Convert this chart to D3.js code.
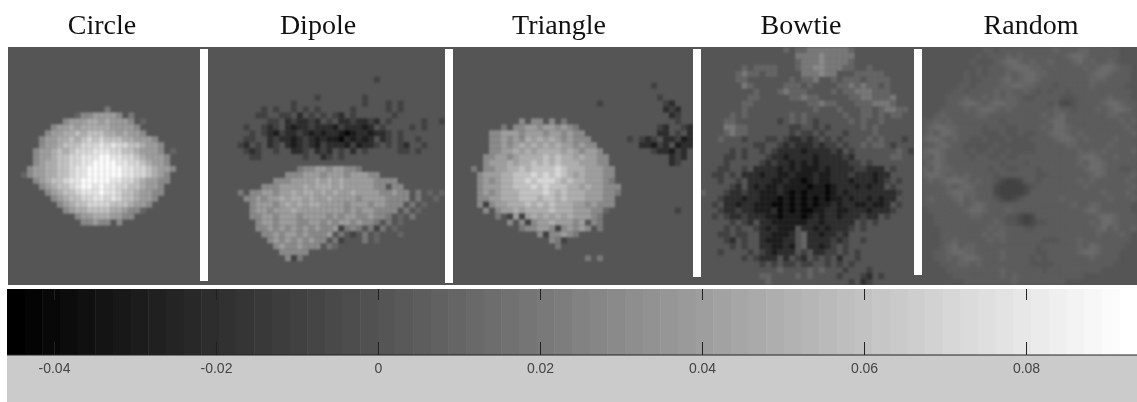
<!DOCTYPE html>
<html>
<head>
<meta charset="utf-8">
<script src="https://cdnjs.cloudflare.com/ajax/libs/d3/7.8.5/d3.min.js"></script>
<style>
  html, body { margin: 0; padding: 0; background: #fff; }
  svg { display: block; }
</style>
</head>
<body>
<div id="chart"></div>
<script>
// panel titles and colorbar ticks
const titles = ["Circle", "Dipole", "Triangle", "Bowtie", "Random"];
const tickValues = [-0.04, -0.02, 0, 0.02, 0.04, 0.06, 0.08];
const colorRange = [-0.0458, 0.0937];
const colorSteps = 64;

// one character per map cell
const levelChars = [".", ":", ",", "+", "1", "2", "3", "4", "5", "6", "7", "8", "9", "a", "b", "c", "d"];
const levelValues = [0, 0.005, -0.005, 0.014, 0.01, 0.02, 0.03, 0.04, 0.05, 0.06, 0.07, 0.08, 0.09, -0.01, -0.02, -0.03, -0.04];

const circleRows = [
  "", "", "", "", "", "", "", "", "", "",
  "................2",
  "...........13344443.2",
  ".........344455454443.1",
  ".......344545555544443",
  "......34455656665545443",
  ".....34455656767666554443",
  ".....344566677787877665443",
  "....3445656777888776654443.1",
  "....34456677888998877654443",
  "....34556677889999887765443",
  "...3445566788999999887765443",
  "..1344556678899999988776543",
  "....34566788999998877654433",
  ".....345667899898877665443",
  "......34566788898876654433",
  ".......345667788787665443",
  "........3456677776665443",
  ".........34556666554331",
  "...........3445554433",
  "............33433.3"
];

const dipoleRows = [
  "", "", "", "", "",
  "............................a",
  "", "",
  "..................a.......a",
  "..............a...........a...a.a",
  ".........a.a..a.a.a.....a.....a.a",
  "........aa..aa.b.a.a.ab.a......a",
  "..........aa.babbab.a.bbabbab.a.....a..a",
  "......a..aba.bcbbabbbcabbbcb.a....a.a",
  ".......a.abcabbabcbcbbcdcbbcbba.a",
  "......aa..babbcbabcbccdbcbcb.ba.a..a",
  ".....ab.a.ba.bcbabcabbbcacbba.a.ab..a",
  "......aba..a..bba.bab.a.b.a.....aa.a",
  ".......aa.......a..ba.a",
  "",
  "...............23344344332",
  ".............3334443444344433",
  "...........333444454545444443333",
  ".........333444454555454444433.33",
  ".....2.334434454554545445444433433.2.1.1",
  "......3343445455454454444344443333.2..1.1",
  ".......34443454545544443444344333.2.1",
  ".......3443444544444444343443333.2.1",
  ".......334434443444434344334332.1.2",
  "........344344433443434434332.2.1",
  "........33434343434334a232.2a2.1",
  ".........334344343334.2.a.2.1...1",
  "..........3434343433.2a...2.1",
  "...........34334333.21",
  "............33333",
  ".............3a2"
];

const triangleRows = [
  "", "", "", "", "", "",
  ".................................a",
  "",
  "..................................a",
  "........................a..........ab",
  "...................................bab",
  "....................................ba",
  "...........3.33.3.2..................a",
  "........2.33443443432.............ab..ab",
  "......3344434443443433............bb.a.b",
  "......33434354545434333......a.aba.bbacb",
  "......334345454545443433.......bbcab.cbb",
  "......3344545455554543443........abbcab",
  ".....334434555565655454433..........bab",
  ".....344454556565655544433..........ba",
  "...2.3344556566667655544433",
  "....34445566676767654544433",
  "....34345566767776565544432",
  "....344455666767666554544333",
  "....343455566667656555444332",
  "....33445556665665655544433",
  "....3a344555656565554434333",
  ".....3.3445455556555444331...........a",
  ".......2.a4a4545454544432",
  ".........3.3a344544434.32",
  "...........233443a34343.2",
  "..............3a33432",
  "................32a",
  ".................2",
  "",
  "......................2.2"
];

const bowtieRows = [
  "..............1.1122222221",
  "................2222322222",
  "................1222322221",
  ".......1.1111...1223322211..1",
  "......1211.11....222322...11111",
  "......11.......1.112..1.111.1111",
  ".......21.....111.1....1121211.1",
  ".........1...12111....1.11222111",
  "........11.....11211.....11221112",
  ".......11.........11211...1112221",
  ".......1...........1...1...11.12211",
  ".....1.1.......1.1......1..11.1.11",
  "....11.......a.1.1.a.....1.1..1",
  "....2211.......aa..a.a.....1.1",
  "....1211.......a.aa.a...a....1",
  "...1...a...aa.abbaba.a.a....1.1...a",
  ".........aa..ababbbabaa.a..1.11.a",
  ".....a.a..a.abbbbcbbbbab.a.......1.a",
  "....aa.a...abbcbbbbcbbbbab......11",
  "....a.....ababbcbcbcbbbbbaa.a",
  "...aa..a.bbbbcbcbcccbcbbbbaabbb.a",
  "..aa.a.bbbcbbccbcccbccbbbabbbcbb",
  "...a..a.bbbbccbccdcbccbbbcbbbcba.a",
  ".....ab.bcbccbccccdccdcbbbcbcbb.a",
  "1...abbabbcccbcdcdcccdcbcbbbbbbbba",
  "...abbbcbbcccdcdcdcdcdccbcbbcbcbb",
  "..a.bbcbbcccddcdcdcdccbcbbccbccb.a",
  "...abbabbcccbdcdcddccbbccbbbcbbba",
  "..a.abbabbbccdcccdcbcbbcbbbabb.a",
  ".....a.ab.bbccccccbbcbbbbb.a.a",
  "....a.a..abcbccc.bbcbcbbba.a",
  "...aa.aa..bbcccb.1bbcbbab",
  "....ab.a..bcccbb.1bbbbaba..a",
  ".....a.a..bbccbc.1bbcba.a",
  "...a....a.abcbbb.a.bbaa.a.a",
  ".......a.abbb.b.ab.a.a.b..a",
  "..........a.a.aa.aa..a.a.a",
  ".............1....1.1...a...a",
  "..........11....1.1....a...ab.a",
  "...........1.............a.ba"
];

const randomRows = [
  "..........::.:::::::::1:::11:::::",
  ".........:.:::1:1:::::::1++1:::::",
  "........:...:1++1:1::1:::1+:1::1:",
  ".........:.:::1+++11:::::::1:1++1::",
  ".......:.:.:::1:1++11:::::::1++1:::",
  ".......:..:::1+:1++1::::::::111::::",
  "......::.::::11++11:::.:::::1:::::",
  ".....::.::::1:1::1:.:.::.::::::::::",
  "....:::1::1:1:11:..::::...:::::1:::",
  "....::1++1:1++11:::::.:,,.::::1++1::",
  "...::::1:1++1:1:::::::1::.:::1:1++1:",
  "..:1:::::11:::::::::1:1+:::::::11:::",
  "::1:1::::::::.:::::::1++:::::::::1:1",
  ":1++11::::.:::..::::1:++1:::::::::1:",
  ":1:++1::::...:..:..::1++1:1::::::::1",
  "1++1:1::..:...:...::::1++1:1::::1:::",
  "::1+1::.....:......:::::11:::::1::::",
  "1++1:::.:..:..:....:::::::1:1:1::::1",
  "1:+1::::.::..:..::::::::::1++1::1:::",
  ":1+1:::::::::.:::.::::::::1:++1:::::",
  "1:+11::::::.::..:::.:::::::1++1::..:",
  "1++1:1:1::::.::::::..:::::::1+1::::1",
  ":1:1+++1:1::.,aa,::.::::::1:1:::::1:",
  "::::1:1+1:::,aaaa,.::::::::1:::::::1",
  "::::1++11:::,aaaa,::::::::::::1:::1:",
  ":1:::1+:1:::.,a,.::::::1:::::::1:::1",
  "::::::1:1+1::::::::::::::1::11:::::",
  ".::::::1++1:::1::::::::::::1+1:::::",
  "..::::::11::::..,a,::::::::::1++1:::",
  "..::::::::::1:..,a,..:::::::1:++1:::",
  "...::::::::1:1:::..::::::::::1+:1::1",
  "...:::::::1:11:::::::::::::::1:::1:",
  "...::1:::::1:1::::::...:::1::::::::",
  "...:1+:11::::::::::.::::::1:+1::::",
  "..::1++11::::1:::::..:::::1++1:::",
  "..::1:1++1:::1::::.:.:::::::1::::",
  "...:::11:1::::::::....::::::::::",
  "....:::::::::1::::::.:::::::::",
  ".....::::::::1:1:::::::::::",
  ".......::::::::1::::::::"
];

const panelRows = [circleRows, dipoleRows, triangleRows, bowtieRows, randomRows];
const panelCols = [32, 40, 40, 36, 36];

// layout, pixels
const fullWidth = 1137;
const fullHeight = 402;
const panelLeft = [9, 208, 453, 700, 922];
const panelRight = [200, 445, 693, 914, 1137];
const titleCenter = [102, 318, 559, 801, 1031];
const panelBlur = [0, 0, 0, 0, 1.4];
const panelTop = 47;
const panelBottom = 285;
const barBottom = [281, 283, 277, 275];
const barLeft = [200, 445, 693, 914];
const barWidth = 8;
const cbLeft = 7, cbRight = 1137, cbTop = 289, cbBottom = 355;

const svg = d3.select("#chart").append("svg")
    .attr("width", fullWidth)
    .attr("height", fullHeight)
    .style("filter", "blur(0.4px)")
    .style("font-family", "'Liberation Sans', sans-serif");

// matlab-style stepped gray colormap
const grays = d3.range(colorSteps).map(i => {
    const g = 255 * i / (colorSteps - 1);
    return d3.rgb(g, g, g).formatHex();
});
const color = d3.scaleQuantize().domain(colorRange).range(grays);

svg.append("clipPath")
    .attr("id", "mapClip")
    .append("rect")
    .attr("x", panelLeft[0] - 1)
    .attr("y", panelTop)
    .attr("width", fullWidth - panelLeft[0] + 1)
    .attr("height", panelBottom - panelTop);

const mapsClip = svg.append("g").attr("clip-path", "url(#mapClip)");

mapsClip.append("rect")
    .attr("x", panelLeft[0] - 1)
    .attr("y", panelTop)
    .attr("width", fullWidth - panelLeft[0] + 1)
    .attr("height", panelBottom - panelTop)
    .attr("fill", color(0));

const maps = mapsClip.append("g").style("filter", "blur(1px)");

panelRows.forEach((rows, p) => {
    const x = d3.scaleBand().domain(d3.range(panelCols[p])).range([panelLeft[p], panelRight[p]]);
    const y = d3.scaleBand().domain(d3.range(40)).range([panelTop, panelBottom]);

    const cells = [];
    rows.forEach((row, r) => {
        row.split("").forEach((ch, c) => {
            if (ch !== "." && c < panelCols[p]) cells.push({ r, c, value: levelValues[levelChars.indexOf(ch)] });
        });
    });

    maps.append("g")
        .attr("class", "panel")
        .style("filter", panelBlur[p] ? `blur(${panelBlur[p]}px)` : null)
        .selectAll("rect")
        .data(cells)
        .join("rect")
        .attr("x", d => x(d.c))
        .attr("y", d => y(d.r))
        .attr("width", x.bandwidth())
        .attr("height", y.bandwidth())
        .attr("fill", d => color(d.value));
});

// white separators between the pasted panels
svg.append("g")
    .selectAll("rect")
    .data(barLeft)
    .join("rect")
    .attr("x", d => d)
    .attr("y", panelTop + 2)
    .attr("width", barWidth)
    .attr("height", (d, i) => barBottom[i] - panelTop - 2)
    .attr("fill", "#fff");

svg.append("g")
    .selectAll("text")
    .data(titles)
    .join("text")
    .attr("x", (d, i) => titleCenter[i])
    .attr("y", 34)
    .attr("text-anchor", "middle")
    .style("font-family", "'Liberation Serif', serif")
    .style("font-size", "28px")
    .attr("fill", "#111")
    .text(d => d);

// colorbar
svg.append("rect")
    .attr("x", cbLeft)
    .attr("y", cbBottom)
    .attr("width", cbRight - cbLeft)
    .attr("height", fullHeight - cbBottom)
    .attr("fill", "#cbcbcb");

const band = d3.scaleBand().domain(d3.range(colorSteps)).range([cbLeft, cbRight]);

svg.append("g")
    .selectAll("rect")
    .data(d3.range(colorSteps))
    .join("rect")
    .attr("x", d => band(d))
    .attr("y", cbTop)
    .attr("width", band.bandwidth() + 0.5)
    .attr("height", cbBottom - cbTop)
    .attr("fill", d => grays[d]);

const xCb = d3.scaleLinear().domain(colorRange).range([cbLeft, cbRight]);

const axisB = svg.append("g")
    .attr("transform", `translate(0,${cbBottom})`)
    .call(d3.axisTop(xCb).tickValues(tickValues).tickSize(13).tickFormat(""));
axisB.select(".domain").attr("stroke", "#222").attr("d", `M${cbLeft},0H${cbRight}`);
axisB.selectAll(".tick line").attr("stroke", "#222");

const axisT = svg.append("g")
    .attr("transform", `translate(0,${cbTop})`)
    .call(d3.axisBottom(xCb).tickValues(tickValues).tickSize(11).tickFormat(""));
axisT.select(".domain").remove();
axisT.selectAll(".tick line").attr("stroke", "#222");

const labels = svg.append("g")
    .attr("transform", `translate(0,${cbBottom})`)
    .call(d3.axisBottom(xCb).tickValues(tickValues).tickSize(0).tickPadding(8).tickFormat(d => String(d)));
labels.select(".domain").remove();
labels.selectAll("text")
    .style("font-size", "14px")
    .style("font-family", "'Liberation Sans', sans-serif")
    .attr("fill", "#444");
</script>
</body>
</html>
